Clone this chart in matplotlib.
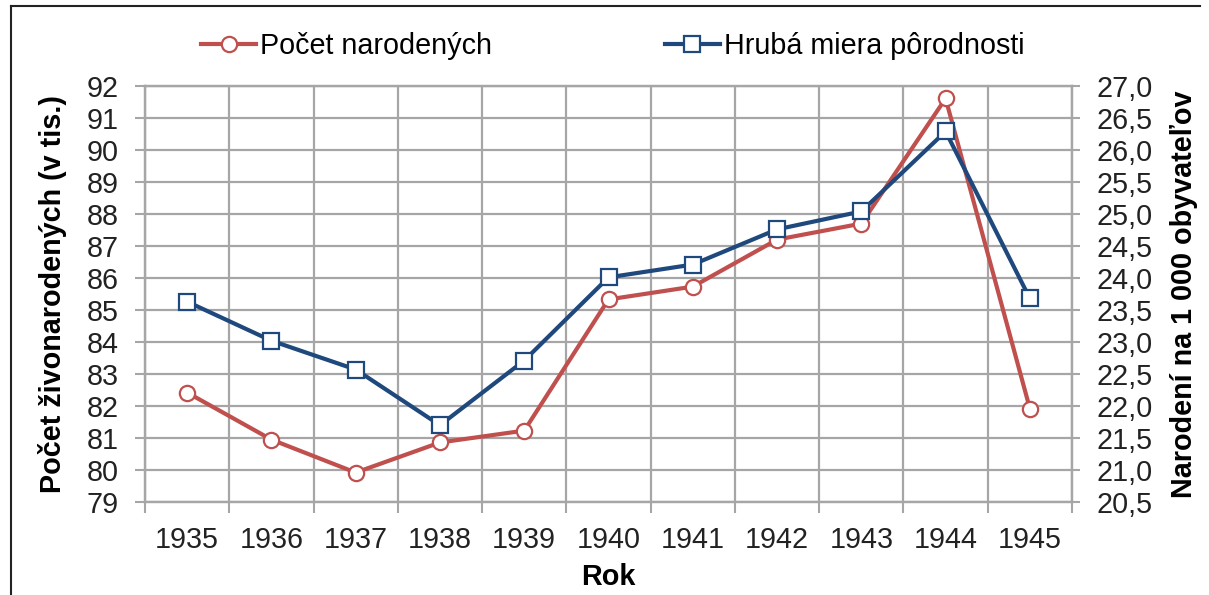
import matplotlib
matplotlib.use("Agg")
import matplotlib.pyplot as plt
from matplotlib.lines import Line2D

plt.rcParams['font.family'] = ['Liberation Sans', 'DejaVu Sans']

years = ['1935', '1936', '1937', '1938', '1939', '1940', '1941', '1942', '1943', '1944', '1945']
births = [82.42, 80.95, 79.92, 80.86, 81.23, 85.33, 85.73, 87.20, 87.70, 91.61, 81.92]
rate = [23.63, 23.02, 22.57, 21.70, 22.71, 24.01, 24.21, 24.76, 25.04, 26.29, 23.68]
left_ticks = list(range(79, 93))
right_ticks = [20.5, 21.0, 21.5, 22.0, 22.5, 23.0, 23.5, 24.0, 24.5, 25.0, 25.5, 26.0, 26.5, 27.0]

RED = '#C0504D'
BLUE = '#1F497D'
GRID = '#A6A6A6'
TXT = '#222222'
FS = 20.7

fig = plt.figure(figsize=(12.09, 5.95), dpi=100)
ax = fig.add_axes([145/1209, 1-502/595, (1072-145)/1209, (502-86)/595])
ax2 = ax.twinx()

x = list(range(len(years)))
ax.plot(x, births, color=RED, lw=3, marker='o', ms=11, mfc='white', mec=RED, mew=1.6,
        label='Počet narodených', zorder=3)
ax2.plot(x, rate, color=BLUE, lw=3, marker='s', ms=11, mfc='white', mec=BLUE, mew=1.6,
         label='Hrubá miera pôrodnosti', zorder=3)

ax.set_xlim(-0.5, len(years) - 0.5)
ax.set_ylim(79, 92)
ax2.set_ylim(20.5, 27.0)

ax.set_yticks(left_ticks)
ax.set_yticklabels([str(v) for v in left_ticks], fontsize=FS)
ax2.set_yticks(right_ticks)
ax2.set_yticklabels([f"{v:.1f}".replace('.', ',') for v in right_ticks], fontsize=FS)

bounds = [i - 0.5 for i in range(len(years) + 1)]
ax.set_xticks(bounds)
ax.set_xticklabels([''] * len(bounds))
ax.set_xticks(x, minor=True)
ax.set_xticklabels(years, minor=True, fontsize=FS)
ax.tick_params(axis='x', which='minor', length=0, pad=17, labelcolor=TXT)
ax.tick_params(axis='x', which='major', length=8, color=GRID, width=1.5)
ax.tick_params(axis='y', length=7, color=GRID, width=1.5, pad=12, labelcolor=TXT)
ax2.tick_params(axis='y', length=6, color=GRID, width=1.5, pad=12, labelcolor=TXT)

ax.grid(True, which='major', color=GRID, lw=1.6)
ax.set_axisbelow(True)

for a in (ax, ax2):
    for s in a.spines.values():
        s.set_color(GRID)
        s.set_linewidth(1.6)

ax.set_ylabel('Počet živonarodených (v tis.)', fontsize=FS, fontweight='bold', labelpad=14)
ax2.set_ylabel('Narodení na 1 000 obyvateľov', fontsize=FS, fontweight='bold', labelpad=12)
ax.set_xlabel('Rok', fontsize=FS, fontweight='bold', labelpad=7)

h1, l1 = ax.get_legend_handles_labels()
h2, l2 = ax2.get_legend_handles_labels()
fig.legend(h1 + h2, l1 + l2, loc='center', bbox_to_anchor=(0.507, 0.923), ncol=2,
           frameon=False, fontsize=FS, handlelength=1.9, handletextpad=0.15,
           columnspacing=6.0)

fig.add_artist(Line2D([11/1209, 11/1209], [0, 1-6/595], color=TXT, lw=1.5,
                      transform=fig.transFigure))
fig.add_artist(Line2D([11/1209, 1200/1209], [1-6/595, 1-6/595], color=TXT, lw=1.5,
                      transform=fig.transFigure))

fig.savefig('out.png', dpi=100)
